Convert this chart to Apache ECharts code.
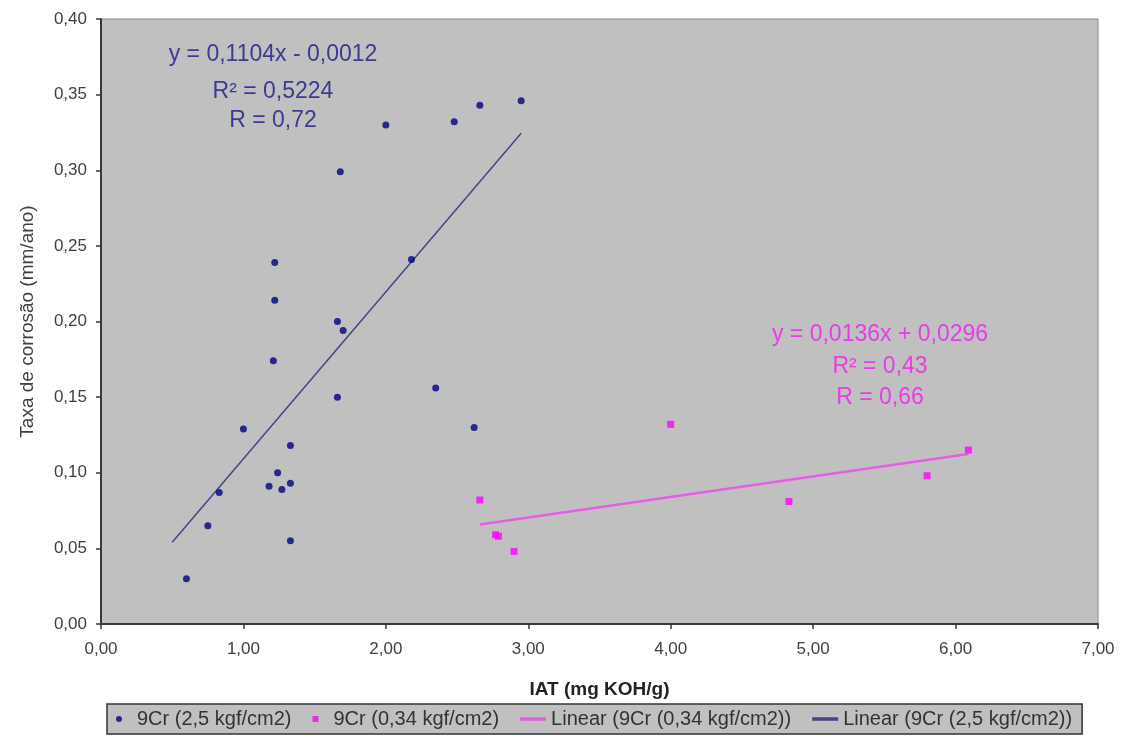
<!DOCTYPE html>
<html>
<head>
<meta charset="utf-8">
<script src="https://cdn.jsdelivr.net/npm/echarts@6/dist/echarts.min.js"></script>
<style>
html,body{margin:0;padding:0;background:#fff;}
#chart{width:1121px;height:740px;}
</style>
</head>
<body>
<div id="chart"></div>
<script>
// ---- data ----
const seriesNames = ['9Cr (2,5 kgf/cm2)', '9Cr (0,34 kgf/cm2)', 'Linear (9Cr (0,34 kgf/cm2))', 'Linear (9Cr (2,5 kgf/cm2))'];

const blueX = [0.60, 0.75, 0.83, 1.00, 1.18, 1.24, 1.27, 1.33, 1.33, 1.33, 1.21, 1.22, 1.22, 1.66, 1.66, 1.70, 1.68, 2.00, 2.18, 2.35, 2.48, 2.62, 2.66, 2.95];
const blueY = [0.030, 0.065, 0.087, 0.129, 0.091, 0.100, 0.089, 0.093, 0.118, 0.055, 0.174, 0.214, 0.239, 0.150, 0.200, 0.194, 0.299, 0.330, 0.241, 0.156, 0.332, 0.130, 0.343, 0.346];

const pinkX = [2.66, 2.77, 2.79, 2.90, 4.00, 4.83, 5.80, 6.09];
const pinkY = [0.082, 0.059, 0.058, 0.048, 0.132, 0.081, 0.098, 0.115];

// trend lines: [slope, intercept] and x range
const blueTrendCoef = [0.1104, -0.0012];
const blueTrendX = [0.50, 2.95];
const pinkTrendCoef = [0.0136, 0.0296];
const pinkTrendX = [2.66, 6.09];

const blueEqText = ['y = 0,1104x - 0,0012', 'R² = 0,5224', 'R = 0,72'];
const pinkEqText = ['y = 0,0136x + 0,0296', 'R² = 0,43', 'R = 0,66'];

const xTicks = [0, 7, 1];      // min, max, interval
const yTicks = [0, 0.40, 0.05];
const xTitle = 'IAT (mg KOH/g)';
const yTitle = 'Taxa de corrosão (mm/ano)';

// ---- build ----
const zip = (xs, ys) => xs.map((x, i) => [x, ys[i]]);
const trend = (coef, xs) => xs.map(x => [x, coef[0] * x + coef[1]]);
const fmt = v => v.toFixed(2).replace('.', ',');

const FONT = '"Liberation Sans", Arial, sans-serif';
const BLUE = '#000080', PINK = '#ff00ff';
const PINK_LINE = '#e65ee6', BLUE_LINE = '#45458a';

const chart = echarts.init(document.getElementById('chart'), null, {renderer: 'canvas'});

function eqGraphics(lines, cx, ys, color) {
  return lines.map((t, i) => ({
    type: 'text', x: cx, y: ys[i], z: 100,
    style: {text: t, fill: color, font: '23px ' + FONT, textAlign: 'center', textVerticalAlign: 'middle'}
  }));
}

const SQUARE = 'path://M0,0h10v10h-10z';
const LINEICON = 'path://M0,0h52v7h-52z';

const option = {
  animation: false,
  backgroundColor: '#ffffff',
  textStyle: {fontFamily: FONT},
  grid: {left: 101, right: 23, top: 19, bottom: 116, show: true, backgroundColor: '#c0c0c0', borderColor: '#8a8a8a', borderWidth: 1},
  xAxis: {
    type: 'value', min: xTicks[0], max: xTicks[1], interval: xTicks[2],
    name: xTitle, nameLocation: 'middle', nameGap: 56,
    nameTextStyle: {fontSize: 19, fontWeight: 'bold', color: '#222', fontFamily: FONT},
    axisLine: {show: true, onZero: false, lineStyle: {color: '#3a3a3a', width: 2}},
    axisTick: {show: true, length: 5, lineStyle: {color: '#3a3a3a', width: 1.5}},
    axisLabel: {formatter: fmt, fontSize: 17, color: '#404040', margin: 17, fontFamily: FONT},
    splitLine: {show: false}
  },
  yAxis: {
    type: 'value', min: yTicks[0], max: yTicks[1], interval: yTicks[2],
    name: yTitle, nameLocation: 'middle', nameGap: 64,
    nameTextStyle: {fontSize: 19, color: '#404040', fontFamily: FONT},
    axisLine: {show: true, onZero: false, lineStyle: {color: '#3a3a3a', width: 2}},
    axisTick: {show: true, length: 5, lineStyle: {color: '#3a3a3a', width: 1.5}},
    axisLabel: {formatter: fmt, fontSize: 17, color: '#404040', margin: 14, fontFamily: FONT},
    splitLine: {show: false}
  },
  legend: {
    left: 107, top: 704, orient: 'horizontal',
    padding: [5, 10, 5, 9], itemGap: 21, itemWidth: 26, itemHeight: 6,
    symbolKeepAspect: true,
    backgroundColor: '#c0c0c0', borderColor: '#333', borderWidth: 1.5,
    textStyle: {fontSize: 20, color: '#333', fontFamily: FONT},
    data: [
      {name: seriesNames[0], icon: 'circle'},
      {name: seriesNames[1], icon: SQUARE},
      {name: seriesNames[2], icon: LINEICON},
      {name: seriesNames[3], icon: LINEICON}
    ]
  },
  series: [
    {name: seriesNames[0], type: 'scatter', symbol: 'circle', symbolSize: 7,
     itemStyle: {color: BLUE}, data: zip(blueX, blueY), z: 5},
    {name: seriesNames[1], type: 'scatter', symbol: 'rect', symbolSize: 7,
     itemStyle: {color: PINK}, data: zip(pinkX, pinkY), z: 5},
    {name: seriesNames[2], type: 'line', symbol: 'none', showSymbol: false,
     lineStyle: {color: PINK_LINE, width: 2.5}, itemStyle: {color: PINK_LINE},
     data: trend(pinkTrendCoef, pinkTrendX), z: 3},
    {name: seriesNames[3], type: 'line', symbol: 'none', showSymbol: false,
     lineStyle: {color: BLUE_LINE, width: 1.5}, itemStyle: {color: BLUE_LINE},
     data: trend(blueTrendCoef, blueTrendX), z: 3}
  ],
  graphic: [].concat(
    eqGraphics(blueEqText, 273, [55, 92, 121], '#3b3b92'),
    eqGraphics(pinkEqText, 880, [335, 367, 398], '#e83ce8')
  )
};
chart.setOption(option);
</script>
</body>
</html>
